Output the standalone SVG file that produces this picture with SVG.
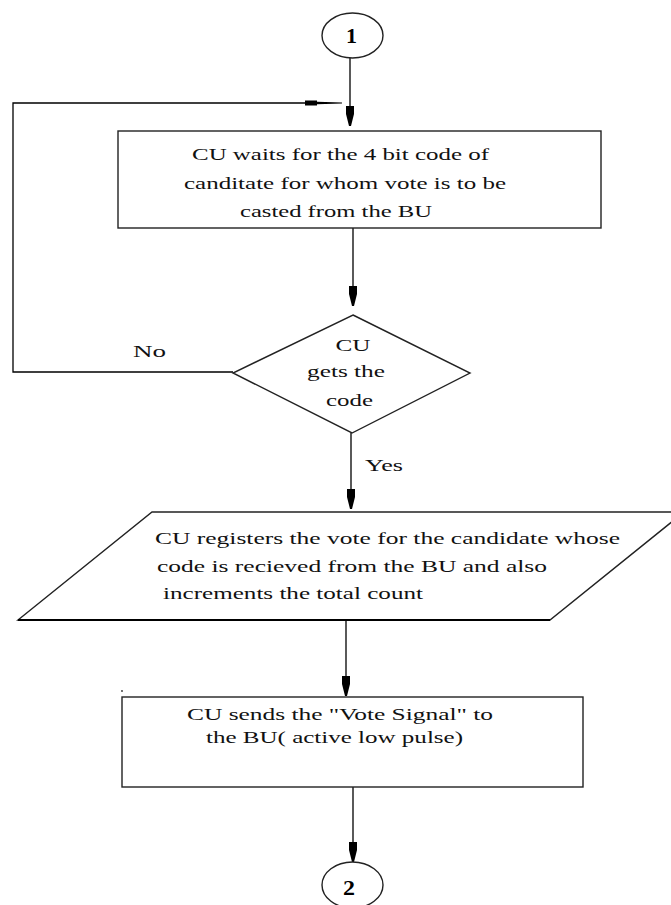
<svg xmlns="http://www.w3.org/2000/svg" width="671" height="905" viewBox="0 0 671 905">
  <style>
    .shape { fill: #fff; stroke: #222; stroke-width: 1.4; }
    .edge { fill: none; stroke: #000; stroke-width: 1.3; }
    .txt { font-family: 'Liberation Serif', 'DejaVu Serif', serif; font-size: 16px; fill: #111; }
    .num { font-family: 'Liberation Serif', 'DejaVu Serif', serif; font-size: 20px; font-weight: bold; fill: #000; }
  </style>
  <defs>
    <!-- downward arrowhead, tip at origin -->
    <path id="ah" d="M-4,-20 L4,-20 L4,-12 L1,0 L-1,0 L-4,-12 Z" fill="#000"/>
  </defs>
  <rect width="671" height="905" fill="#fff"/>

  <g id="connectors" font-family="Liberation Serif, serif">
    <!-- connector 1 to wait box -->
    <line class="edge" x1="350" y1="58" x2="350" y2="110"/>
    <use href="#ah" x="350" y="126"/>
    <!-- wait box to decision -->
    <line class="edge" x1="353" y1="228" x2="353" y2="290"/>
    <use href="#ah" x="353" y="306"/>
    <!-- "No" loop back to wait box -->
    <polyline class="edge" points="233,372 13,372 13,103 310,103"/>
    <path d="M305,100.5 L317,100.5 L317,101.8 L342,102.4 L342,103.6 L317,104.2 L317,105.5 L305,105.5 Z" fill="#000"/>
    <!-- decision to register -->
    <line class="edge" x1="351" y1="433" x2="351" y2="492"/>
    <use href="#ah" x="351" y="509"/>
    <!-- register to vote signal -->
    <line class="edge" x1="346" y1="620" x2="346" y2="680"/>
    <use href="#ah" x="346" y="696"/>
    <!-- vote signal to connector 2 -->
    <line class="edge" x1="353" y1="787" x2="353" y2="846"/>
    <use href="#ah" x="353" y="862"/>
    <text class="txt" x="133" y="357" textLength="33" lengthAdjust="spacingAndGlyphs">No</text>
    <text class="txt" x="365" y="471" textLength="38" lengthAdjust="spacingAndGlyphs">Yes</text>
  </g>

  <g id="start-connector">
    <ellipse class="shape" cx="352.5" cy="35.5" rx="30.5" ry="22.5"/>
    <text class="num" x="346" y="43" textLength="11" lengthAdjust="spacingAndGlyphs">1</text>
  </g>

  <g id="wait-code">
    <rect class="shape" x="118" y="131" width="483" height="97" stroke-width="1.8" stroke="#333"/>
    <text class="txt" x="192" y="160" textLength="297" lengthAdjust="spacingAndGlyphs">CU waits for the 4 bit code of</text>
    <text class="txt" x="184" y="189" textLength="322" lengthAdjust="spacingAndGlyphs">canditate for whom vote is to be</text>
    <text class="txt" x="240" y="217" textLength="192" lengthAdjust="spacingAndGlyphs">casted from the BU</text>
  </g>

  <g id="gets-code">
    <polygon class="shape" points="353,315 470,373 352,433 233,373" stroke-width="1.2"/>
    <text class="txt" x="335.5" y="351" textLength="35" lengthAdjust="spacingAndGlyphs">CU</text>
    <text class="txt" x="307" y="377" textLength="78" lengthAdjust="spacingAndGlyphs">gets the</text>
    <text class="txt" x="326" y="406" textLength="47" lengthAdjust="spacingAndGlyphs">code</text>
  </g>

  <g id="register-vote">
    <polygon class="shape" points="152,512 684,512 550,620 18,620" stroke-width="1.2"/>
    <line x1="18" y1="620" x2="550" y2="620" stroke="#000" stroke-width="2.2"/>
    <text class="txt" x="155" y="544" textLength="465" lengthAdjust="spacingAndGlyphs">CU registers the vote for the candidate whose</text>
    <text class="txt" x="157" y="572" textLength="390" lengthAdjust="spacingAndGlyphs">code is recieved from the BU and also</text>
    <text class="txt" x="163" y="599" textLength="260" lengthAdjust="spacingAndGlyphs">increments the total count</text>
  </g>

  <g id="vote-signal">
    <circle cx="122" cy="691" r="0.9" fill="#333"/>
    <rect class="shape" x="122" y="697" width="461" height="90" stroke-width="1.6" stroke="#333"/>
    <text class="txt" x="187" y="720" textLength="306" lengthAdjust="spacingAndGlyphs">CU sends the "Vote Signal" to</text>
    <text class="txt" x="206" y="743" textLength="257" lengthAdjust="spacingAndGlyphs">the BU( active low pulse)</text>
  </g>

  <g id="end-connector">
    <ellipse class="shape" cx="352.5" cy="885" rx="30.5" ry="23"/>
    <text class="num" x="343" y="895" textLength="12" lengthAdjust="spacingAndGlyphs">2</text>
  </g>
</svg>
